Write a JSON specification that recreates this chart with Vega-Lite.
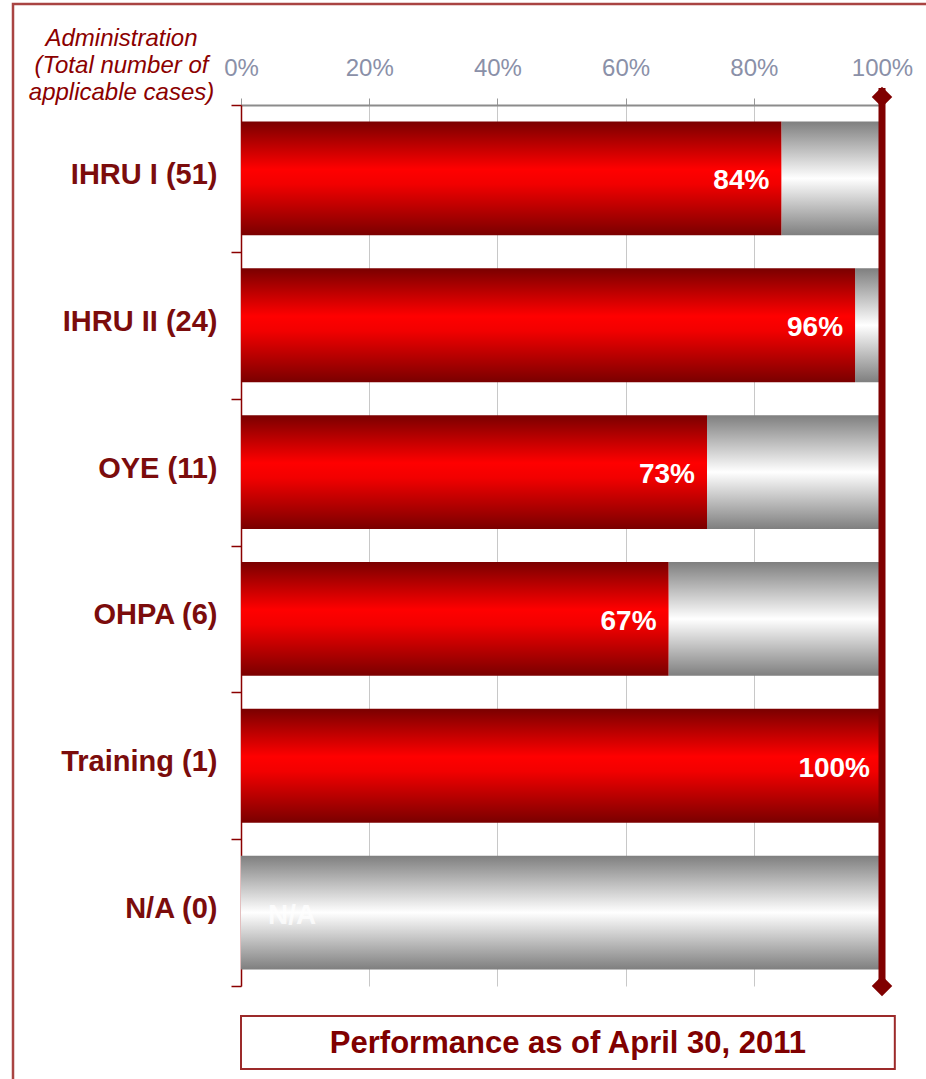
{
  "$schema": "https://vega.github.io/schema/vega-lite/v6.json",
  "autosize": {"type": "none"},
  "width": 641,
  "height": 881,
  "padding": {"left": 241, "top": 105, "right": 44, "bottom": 93},
  "background": "white",
  "config": {
    "view": {"stroke": null},
    "font": "Liberation Sans"
  },
  "data": {
    "values": [
      {"name": "IHRU I (51)", "pct": 84.3, "label": "84%"},
      {"name": "IHRU II (24)", "pct": 95.8, "label": "96%"},
      {"name": "OYE (11)", "pct": 72.7, "label": "73%"},
      {"name": "OHPA (6)", "pct": 66.7, "label": "67%"},
      {"name": "Training (1)", "pct": 100, "label": "100%"},
      {"name": "N/A (0)", "pct": 0, "label": "N/A"}
    ]
  },
  "encoding": {
    "y": {
      "field": "name",
      "type": "nominal",
      "sort": null,
      "scale": {"paddingInner": 0, "paddingOuter": 0},
      "axis": {
        "orient": "left",
        "tickBand": "extent",
        "domainColor": "#8b0000",
        "domainWidth": 1.5,
        "tickColor": "#8b0000",
        "tickWidth": 1.5,
        "tickSize": 10,
        "labelFont": "Liberation Sans",
        "labelFontSize": 29,
        "labelFontWeight": "bold",
        "labelColor": "#7b0c0c",
        "labelPadding": 14,
        "labelOffset": -4,
        "labelLimit": 0,
        "grid": false,
        "title": ["Administration", "(Total number of", "applicable cases)"],
        "titleAngle": 0,
        "titleAlign": "center",
        "titleBaseline": "alphabetic",
        "titleX": -120,
        "titleY": -60,
        "titleFont": "Liberation Sans",
        "titleFontSize": 24,
        "titleFontStyle": "italic",
        "titleFontWeight": "normal",
        "titleColor": "#8b0000",
        "titleLineHeight": 27
      }
    }
  },
  "layer": [
    {
      "mark": {
        "type": "bar",
        "height": {"band": 0.775},
        "color": {
          "gradient": "linear", "x1": 0, "y1": 0, "x2": 0, "y2": 1,
          "stops": [
            {"offset": 0, "color": "#7f7f7f"},
            {"offset": 0.5, "color": "#ffffff"},
            {"offset": 1, "color": "#7f7f7f"}
          ]
        }
      },
      "encoding": {
        "x": {
          "field": "pct",
          "type": "quantitative",
          "scale": {"domain": [0, 100], "nice": false},
          "axis": {
            "orient": "top",
            "values": [0, 20, 40, 60, 80, 100],
            "labelExpr": "datum.value + '%'",
            "labelFont": "Liberation Sans",
            "labelFontSize": 24,
            "labelColor": "#8a90a8",
            "labelFlush": false,
            "labelPadding": 18,
            "tickColor": "#999999",
            "tickSize": 7,
            "domainColor": "#8c8c8c",
            "domainWidth": 2,
            "grid": true,
            "gridColor": "#c8c8c8",
            "title": null
          }
        },
        "x2": {"datum": 100}
      }
    },
    {
      "mark": {
        "type": "bar",
        "height": {"band": 0.775},
        "color": {
          "gradient": "linear", "x1": 0, "y1": 0, "x2": 0, "y2": 1,
          "stops": [
            {"offset": 0, "color": "#7a0000"},
            {"offset": 0.42, "color": "#ff0000"},
            {"offset": 0.55, "color": "#f20000"},
            {"offset": 1, "color": "#7a0000"}
          ]
        }
      },
      "encoding": {
        "x": {"field": "pct", "type": "quantitative", "scale": {"domain": [0, 100], "nice": false}}
      }
    },
    {
      "transform": [{"filter": "datum.pct > 0"}],
      "mark": {
        "type": "text",
        "align": "right",
        "baseline": "middle",
        "dx": -12,
        "dy": 3,
        "font": "Liberation Sans",
        "fontSize": 28,
        "fontWeight": "bold",
        "color": "white"
      },
      "encoding": {
        "x": {"field": "pct", "type": "quantitative", "scale": {"domain": [0, 100], "nice": false}},
        "text": {"field": "label"}
      }
    },
    {
      "transform": [{"filter": "datum.pct == 0"}],
      "mark": {
        "type": "text",
        "align": "left",
        "baseline": "middle",
        "dx": 27,
        "dy": 3,
        "font": "Liberation Sans",
        "fontSize": 28,
        "fontWeight": "bold",
        "color": "white",
        "opacity": 0.75
      },
      "encoding": {
        "x": {"field": "pct", "type": "quantitative", "scale": {"domain": [0, 100], "nice": false}},
        "text": {"field": "label"}
      }
    },
    {
      "data": {"values": [{"marker": "limit"}]},
      "mark": {"type": "rule", "color": "#800000", "strokeWidth": 7},
      "encoding": {
        "x": {"datum": 100, "type": "quantitative", "scale": {"domain": [0, 100], "nice": false}},
        "y": {"value": -17},
        "y2": {"value": 886}
      }
    },
    {
      "data": {"values": [{"marker": "top"}]},
      "mark": {"type": "point", "shape": "diamond", "filled": true, "size": 420, "color": "#800000", "opacity": 1},
      "encoding": {
        "x": {"datum": 100, "type": "quantitative", "scale": {"domain": [0, 100], "nice": false}},
        "y": {"value": -8}
      }
    },
    {
      "data": {"values": [{"marker": "bottom"}]},
      "mark": {"type": "point", "shape": "diamond", "filled": true, "size": 420, "color": "#800000", "opacity": 1},
      "encoding": {
        "x": {"datum": 100, "type": "quantitative", "scale": {"domain": [0, 100], "nice": false}},
        "y": {"value": 881}
      }
    },
    {
      "data": {"values": [{"box": "footer"}]},
      "mark": {"type": "rect", "fill": "white", "fillOpacity": 0, "stroke": "#9c2a2a", "strokeWidth": 2},
      "encoding": {
        "x": {"datum": 0, "type": "quantitative", "scale": {"domain": [0, 100], "nice": false}},
        "x2": {"datum": 102},
        "y": {"value": 911},
        "y2": {"value": 964}
      }
    },
    {
      "data": {"values": [{"caption": "Performance as of April 30, 2011"}]},
      "mark": {
        "type": "text",
        "align": "center",
        "baseline": "middle",
        "font": "Liberation Sans",
        "fontSize": 31,
        "fontWeight": "bold",
        "color": "#800000"
      },
      "encoding": {
        "x": {"datum": 51, "type": "quantitative", "scale": {"domain": [0, 100], "nice": false}},
        "y": {"value": 939},
        "text": {"field": "caption"}
      }
    },
    {
      "data": {"values": [{"box": "frame"}]},
      "mark": {"type": "rect", "fill": "white", "fillOpacity": 0, "stroke": "#a94442", "strokeWidth": 2.5},
      "encoding": {
        "x": {"value": -228},
        "x2": {"value": 720},
        "y": {"value": -101},
        "y2": {"value": 1010}
      }
    }
  ]
}
